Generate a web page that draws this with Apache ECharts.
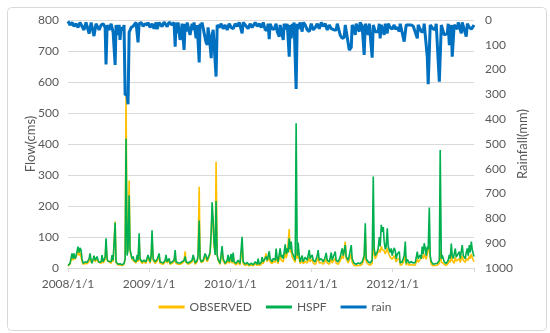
<!DOCTYPE html>
<html>
<head>
<meta charset="utf-8">
<script src="https://cdn.jsdelivr.net/npm/echarts@6/dist/echarts.min.js"></script>
<style>
html,body{margin:0;padding:0;background:#fff;}
#chart{width:550px;height:333px;}
</style>
</head>
<body>
<div id="chart"></div>
<script>
// x values: days since 2008/1/1
const xTickLabels = ['2008/1/1', '2009/1/1', '2010/1/1', '2011/1/1', '2012/1/1'];
const seriesNames = ['OBSERVED', 'HSPF', 'rain'];

const flowDays = [0,9,18,23,27,32,36,41,45,50,54,59,63,68,77,86,95,99,104,108,117,122,126,131,135,140,149,153,158,167,171,176,180,185,194,198,203,207,212,216,225,234,243,252,257,261,266,270,275,279,284,288,293,297,302,306,311,315,320,324,333,342,351,356,
360,369,374,378,383,392,401,410,414,419,428,437,441,446,455,459,468,477,482,486,495,504,513,522,527,531,540,549,558,563,572,581,585,590,594,599,608,617,621,626,630,639,644,648,653,657,662,666,671,675,
684,693,698,707,716,720,725,734,738,743,747,756,765,774,783,788,797,806,815,824,833,842,851,855,860,869,873,878,882,891,896,905,909,918,923,932,936,941,945,954,959,963,968,977,981,986,990,995,999,1004,1008,1013,1022,1026,1031,1035,1040,1044,1053,1058,1067,1076,1085,1089,
1098,1103,1112,1121,1125,1130,1139,1148,1157,1161,1166,1175,1184,1188,1193,1202,1206,1215,1224,1233,1238,1247,1251,1260,1265,1274,1278,1287,1296,1305,1314,1323,1332,1337,1341,1350,1359,1368,1373,1377,1382,1386,1391,1395,1400,1404,1409,1413,1418,1422,1427,1431,1436,1440,1445,1449,1454,1458,
1467,1472,1476,1481,1490,1494,1503,1512,1517,1521,1526,1535,1544,1553,1562,1566,1571,1575,1580,1584,1589,1593,1598,1602,1607,1611,1616,1620,1625,1629,1634,1643,1652,1661,1670,1674,1679,1683,1692,1701,1710,1715,1719,1724,1728,1733,1737,1742,1746,1751,1760,1764,1773,1778,1782,1787,1791,1796,1800,1805,1809,1814,1818,1823,1826];

const hspf = [8,15,47,30,47,30,37,55,69,50,65,58,30,15,20,18,30,47,25,15,40,25,30,37,25,18,20,42,20,35,96,30,22,25,20,42,25,25,147,20,12,14,10,15,30,418,40,60,235,58,58,30,37,25,30,20,42,25,112,30,20,25,20,33,
42,20,40,122,30,20,28,47,20,25,16,25,42,20,31,15,20,25,58,20,16,16,20,25,37,20,16,20,25,42,16,25,40,153,30,20,25,47,40,25,20,50,117,212,154,80,42,216,40,28,
15,71,30,15,25,42,20,45,20,50,20,15,25,15,101,20,12,18,10,16,10,20,12,30,12,18,35,20,15,37,25,54,30,20,31,25,63,30,20,63,35,42,30,76,45,63,50,96,60,85,50,42,25,467,40,82,40,20,40,20,35,25,58,30,
42,25,20,40,58,25,30,20,35,49,25,20,50,25,20,53,25,20,35,63,40,74,37,25,40,74,30,15,12,16,14,20,40,144,30,20,16,25,295,63,40,35,53,63,100,70,139,117,132,85,60,70,128,70,74,50,63,40,
65,55,30,45,53,16,20,40,85,15,28,16,20,16,18,20,53,30,25,42,30,69,45,80,63,40,69,60,195,40,20,12,14,15,25,381,30,42,20,14,25,42,30,79,40,31,25,63,35,30,53,30,74,40,37,30,50,63,40,74,50,85,60,45,37];

const observed = [6,12,35,25,38,28,30,45,55,40,50,45,22,12,15,14,22,35,18,12,30,20,25,30,20,14,15,32,16,28,80,24,18,20,15,34,20,22,150,18,10,10,8,12,28,558,45,70,282,55,50,28,32,22,25,16,35,20,90,25,15,20,15,28,
35,15,32,100,25,15,22,38,15,20,12,20,35,16,25,12,15,20,45,15,12,12,15,22,54,18,12,15,20,35,12,20,40,262,35,18,20,38,32,20,16,45,100,180,140,70,50,343,45,25,
12,55,22,12,18,30,15,32,15,38,15,10,18,10,70,14,8,12,7,10,7,14,8,20,8,12,25,14,10,47,20,38,20,14,22,18,45,22,14,45,25,30,20,55,32,45,40,126,50,60,35,30,18,60,30,50,28,14,25,14,22,16,35,20,
28,16,12,25,35,16,18,12,22,30,16,12,30,16,12,32,16,12,22,40,30,85,30,16,25,45,18,8,7,9,8,12,30,112,20,12,9,15,100,45,30,28,45,50,60,50,70,60,65,55,45,50,65,50,50,35,40,28,
40,35,20,28,30,9,12,25,50,9,16,9,11,9,10,12,30,18,15,28,22,40,30,45,40,28,45,50,74,30,12,7,8,9,15,60,20,25,12,8,15,25,18,40,25,20,15,35,22,18,30,18,40,25,22,18,30,35,25,40,30,45,35,25,20];

const rainDays = [0,9,18,27,36,45,54,72,81,95,104,117,126,140,149,158,167,171,176,185,194,203,212,216,225,230,234,239,248,252,257,261,266,270,275,284,293,297,306,315,320,329,338,347,356,
360,369,378,387,396,401,410,423,432,446,455,468,477,482,486,491,495,504,509,513,522,527,531,536,549,554,558,563,567,576,581,590,594,599,603,617,621,626,630,639,644,648,653,666,671,680,689,698,707,716,725,
734,743,752,761,770,783,788,797,810,819,828,842,851,860,869,878,887,896,900,905,909,918,927,936,941,950,954,968,972,981,986,995,999,1004,1008,1013,1017,1026,1031,1035,1044,1053,1058,1067,1076,1085,1094,
1103,1112,1121,1130,1139,1148,1157,1166,1175,1184,1197,1206,1211,1224,1233,1242,1247,1265,1274,1278,1287,1292,1296,1310,1314,1323,1332,1337,1341,1350,1355,1368,1373,1382,1395,1400,1404,1409,1422,1427,1436,1440,1449,1458,
1467,1472,1481,1490,1494,1512,1517,1521,1544,1553,1571,1575,1589,1598,1602,1616,1620,1625,1629,1643,1652,1656,1670,1674,1679,1692,1706,1710,1715,1719,1724,1728,1733,1737,1751,1755,1769,1773,1791,1796,1805,1814,1823,1826];

const rain = [5,20,10,25,15,30,10,40,10,55,10,65,15,40,20,15,30,179,20,40,15,50,181,20,60,20,80,30,40,20,302,300,300,340,50,30,25,20,10,90,15,10,25,15,20,
10,30,15,35,10,37,10,27,8,27,8,20,10,108,10,54,10,80,60,15,121,15,47,10,60,55,15,40,10,74,20,171,15,25,10,74,90,101,30,100,154,60,40,228,20,30,15,35,20,40,15,
30,35,15,25,10,54,10,20,35,15,30,10,25,15,30,10,40,40,15,77,15,35,37,15,47,67,20,80,15,37,15,148,20,74,15,37,10,278,15,37,10,47,10,20,40,47,15,
40,30,15,35,10,25,15,40,20,35,40,40,15,60,74,70,20,121,110,20,37,60,15,47,10,25,141,15,27,60,15,152,20,47,47,15,74,20,60,15,54,15,30,37,
20,37,30,47,15,87,85,20,20,25,74,20,47,47,15,150,259,259,20,37,37,15,249,249,20,60,55,15,101,95,20,148,148,20,37,10,54,10,67,15,30,37,25,20];

const pairs = (xs, ys) => xs.map((x, i) => [x, ys[i]]);

const chart = echarts.init(document.getElementById('chart'), null, {renderer: 'canvas'});
const font = 'Lato';
const labelColor = '#595959';

chart.setOption({
  animation: false,
  textStyle: {fontFamily: font},
  graphic: [{
    type: 'rect', left: 5, top: 5,
    shape: {width: 539, height: 323, r: 4},
    style: {fill: 'none', stroke: '#d9d9d9', lineWidth: 1},
    z: -1
  }],
  grid: {left: 68, right: 76, top: 20, bottom: 65},
  legend: {
    bottom: 15, left: 'center',
    icon: 'rect',
    itemWidth: 26, itemHeight: 3, itemGap: 14,
    textStyle: {fontFamily: font, fontSize: 12, color: labelColor},
    data: seriesNames
  },
  xAxis: {
    type: 'value', min: 0, max: 1826, interval: 365,
    axisLine: {show: true, lineStyle: {color: '#d9d9d9'}},
    axisTick: {show: true, length: 4, lineStyle: {color: '#d9d9d9'}},
    splitLine: {show: false},
    axisLabel: {
      color: labelColor, fontSize: 12, margin: 10, showMaxLabel: false,
      formatter: v => xTickLabels[Math.round(v / 365)] || ''
    }
  },
  yAxis: [{
    type: 'value', min: 0, max: 800, interval: 100,
    name: 'Flow(cms)', nameLocation: 'middle', nameGap: 31, nameRotate: 90, nameMoveOverlap: false,
    nameTextStyle: {fontFamily: font, fontSize: 13, color: labelColor},
    axisLine: {show: false}, axisTick: {show: false},
    axisLabel: {color: labelColor, fontSize: 12, margin: 9},
    splitLine: {lineStyle: {color: '#d9d9d9'}}
  }, {
    type: 'value', min: 0, max: 1000, interval: 100, inverse: true, position: 'right',
    name: 'Rainfall(mm)', nameLocation: 'middle', nameGap: 42, nameRotate: 90, nameMoveOverlap: false,
    nameTextStyle: {fontFamily: font, fontSize: 13, color: labelColor},
    axisLine: {show: false}, axisTick: {show: false},
    axisLabel: {color: labelColor, fontSize: 12, margin: 11, formatter: v => String(v)},
    splitLine: {show: false}
  }],
  series: [{
    name: seriesNames[0], type: 'line', yAxisIndex: 0, symbol: 'none',
    data: pairs(flowDays, observed),
    lineStyle: {color: '#FFC000', width: 1.6}, itemStyle: {color: '#FFC000'}, z: 2
  }, {
    name: seriesNames[1], type: 'line', yAxisIndex: 0, symbol: 'none',
    data: pairs(flowDays, hspf),
    lineStyle: {color: '#00B050', width: 1.6}, itemStyle: {color: '#00B050'}, z: 3
  }, {
    name: seriesNames[2], type: 'line', yAxisIndex: 1, symbol: 'none', clip: false,
    data: pairs(rainDays, rain),
    lineStyle: {color: '#0070C0', width: 3}, itemStyle: {color: '#0070C0'}, z: 4
  }]
});
</script>
</body>
</html>
